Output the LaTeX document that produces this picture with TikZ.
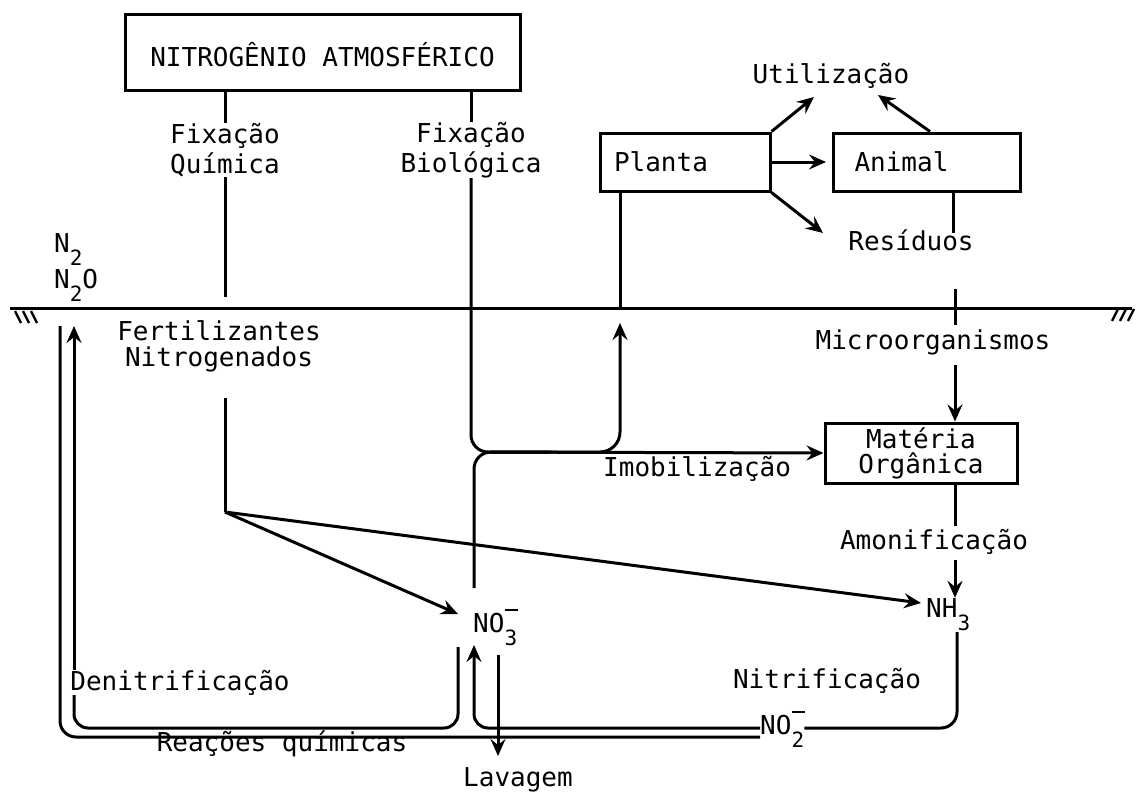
\documentclass[tikz,border=0pt]{standalone}
\usepackage{fontspec}
\newfontfamily\plotter{DejaVu Sans Mono}
\usetikzlibrary{arrows.meta}
\newcommand{\lbf}{\plotter\fontsize{26}{29}\selectfont}
\newcommand{\sbs}[1]{\raisebox{-0.5em}{\fontsize{21}{21}\selectfont #1}}
\newcommand{\chemion}[1]{\rlap{\raisebox{0.8em}{\rule{0.5em}{2.2pt}}}\sbs{#1}}
\begin{document}
\begin{tikzpicture}[x=1pt,y=-1pt,
  every node/.append style={font=\lbf},
  box/.style={draw, line width=3pt, inner sep=0pt},
  lbl/.style={inner sep=0pt},
  ln/.style={line width=3pt},
  arr/.style={line width=3pt, -{Stealth[length=17pt,width=15pt,inset=6pt]}}]
\useasboundingbox (0,0) rectangle (1139,792);
\fill[white] (0,0) rectangle (1139,792);

% boxes
\node[box, minimum width=395pt, minimum height=75pt, text height=28pt, text depth=0pt] (nit) at (322.5,52.5) {NITROGÊNIO ATMOSFÉRICO};
\node[box, minimum width=156pt, minimum height=58pt, text width=142pt, inner xsep=14pt, align=left] (planta) at (685,162) {Planta};
\node[box, minimum width=166pt, minimum height=58pt, text width=145pt, inner xsep=21pt, align=left] (animal) at (927,162) {Animal};
\node[box, minimum width=192pt, minimum height=60pt, align=center] (mat) at (921,453) {Matéria\\[-4pt]Orgânica};

% labels
\node[lbl, anchor=base] (util) at (831,83) {Utilização};
\node[lbl, anchor=base] (resid) at (911,250) {Resíduos};
\node[lbl, align=center] (fq) at (225,150) {Fixação\\[1pt]Química};
\node[lbl, align=center] (fb) at (471,150) {Fixação\\[1pt]Biológica};
\node[lbl, anchor=base west] (n2) at (54,252) {N\sbs{2}};
\node[lbl, anchor=base west] (n2o) at (54,288) {N\sbs{2}O};
\node[lbl, align=center] (fert) at (219,346) {Fertilizantes\\[-3pt]Nitrogenados};
\node[lbl, anchor=base] (micro) at (933,349) {Microorganismos};
\node[lbl, anchor=base west] (imob) at (603,476) {Imobilização};
\node[lbl, anchor=base] (amon) at (934,549) {Amonificação};
\node[lbl, anchor=base west] (nh3) at (926,617) {NH\sbs{3}};
\node[lbl, anchor=base west] (no3) at (473,632) {NO\chemion{3}};
\node[lbl, anchor=base] (denit) at (180,690) {Denitrificação};
\node[lbl, anchor=base] (nitrif) at (827,688) {Nitrificação};
\node[lbl, anchor=base west] (no2) at (760,734) {NO\chemion{2}};
\node[lbl, anchor=base] (reac) at (282,751) {Reações químicas};
\node[lbl, anchor=base] (lav) at (518,786) {Lavagem};

% coordinates
\coordinate (hU) at (0,728);
\coordinate (hL) at (0,737);
\coordinate (J) at (490,452);
\coordinate (fqend) at (225,297);
\coordinate (pu) at (620,323);
\coordinate (pg) at (620,308);
\coordinate (ut1) at (814,97);
\coordinate (ut2) at (878,95);
\coordinate (an1) at (826,162);
\coordinate (re1) at (823,233);
\coordinate (rtop) at (953,233);
\coordinate (m1) at (955,289);
\coordinate (m2) at (955,325);
\coordinate (m3) at (955,365);
\coordinate (a1) at (955,526);
\coordinate (a2) at (955,560);
\coordinate (f1) at (225,398);
\coordinate (fc) at (225,512);
\coordinate (no3tip) at (458,614);
\coordinate (nh3tip) at (921,603);
\coordinate (n3top) at (474,588);
\coordinate (dl) at (458,647);
\coordinate (upt) at (474,645);
\coordinate (lv1) at (498,655);
\coordinate (lv2) at (498,756);
\coordinate (iL) at (74,326);
\coordinate (oL) at (60,326);
\coordinate (nhb) at (957,632);
\coordinate (gl) at (10,308);
\coordinate (gr) at (1132,308);

% ground
\draw[ln] (gl) -- (gr);
\draw[line width=2.4pt] (15,311) -- (21,323) (23,311) -- (29,323) (31,311) -- (37,323);
\draw[line width=2.4pt] (1112,321) -- (1118,309) (1120,321) -- (1126,309) (1128,321) -- (1134,309);

% fixation
\draw[ln] (nit.south -| fq) -- (fq.north);
\draw[ln] (fq.south) -- (fqend);
\draw[ln] (nit.south -| fb) -- (fb.north);
\draw[arr, rounded corners=17pt] (fb.south) -- (fb.south |- J) -- (mat.west);
\draw[ln, rounded corners=17pt] (n3top) -- (n3top |- J) -- ([xshift=60pt]J);
\draw[arr, rounded corners=20pt] (J) -- (pu |- J) -- (pu);
\draw[ln] (pg) -- (planta.south -| pg);

% plant / animal
\draw[arr] (planta.north east) -- (ut1);
\draw[arr] (planta.east) -- (an1);
\draw[arr] (planta.south east) -- (re1);
\draw[arr] ([xshift=3pt]animal.north) -- (ut2);
\draw[ln] (animal.south -| rtop) -- (rtop);
\draw[ln] (m1) -- (m2);
\draw[arr] (m3) -- (mat.north -| m3);
\draw[ln] (mat.south -| a1) -- (a1);
\draw[arr] (a2) -- (nh3.north -| a2);

% fertilizers
\draw[ln] (f1) -- (fc);
\draw[arr] (fc) -- (no3tip);
\draw[arr] (fc) -- (nh3tip);

% bottom loops
\draw[ln, rounded corners=14pt] (dl) -- (dl |- hU) -- (iL |- hU) -- (denit.south -| iL);
\draw[arr] (denit.north -| iL) -- (iL);
\draw[ln, rounded corners=16pt] (no2.west |- hL) -- (oL |- hL) -- (oL);
\draw[arr, rounded corners=14pt] (no2.west |- hU) -- (upt |- hU) -- (upt);
\draw[ln, rounded corners=16pt] (nhb) -- (nhb |- hU) -- (no2.east |- hU);
\draw[arr] (lv1) -- (lv2);
\end{tikzpicture}
\end{document}
